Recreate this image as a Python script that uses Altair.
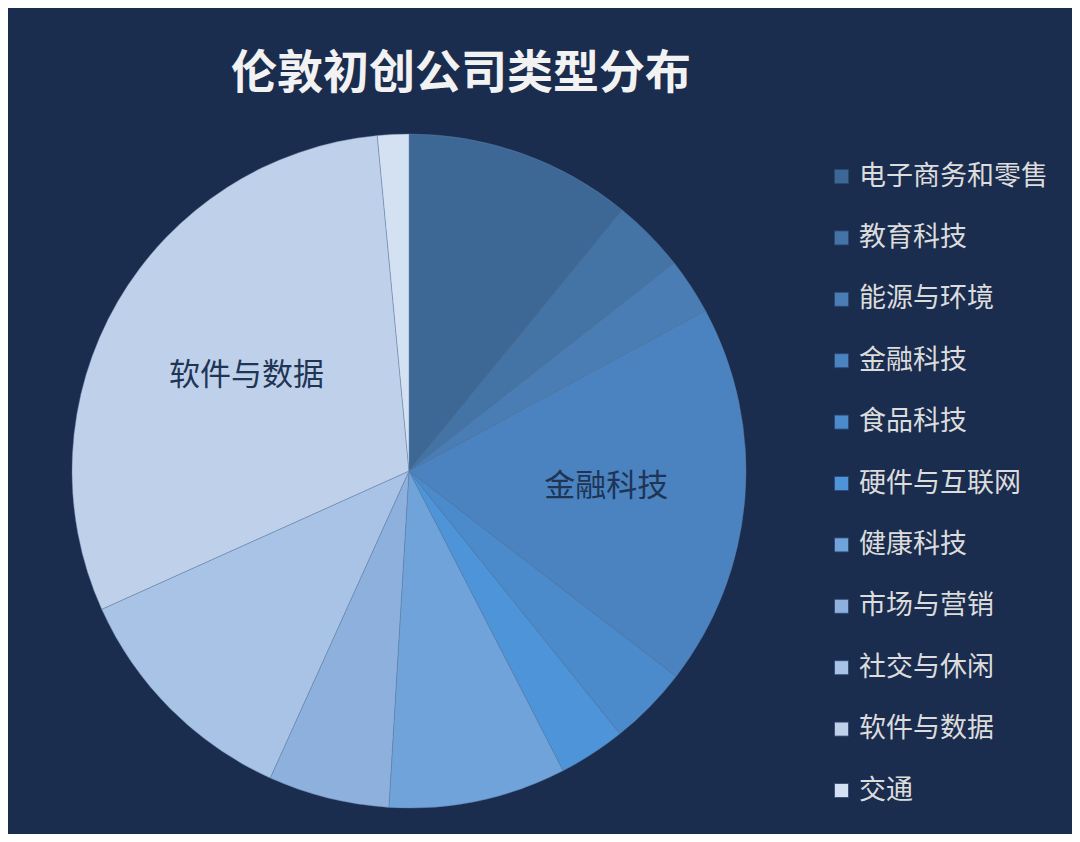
import altair as alt
import pandas as pd

categories = ["电子商务和零售", "教育科技", "能源与环境", "金融科技", "食品科技",
              "硬件与互联网", "健康科技", "市场与营销", "社交与休闲", "软件与数据", "交通"]
shares = [10.9, 3.5, 2.7, 18.3, 3.8, 3.2, 8.5, 5.8, 11.5, 30.2, 1.5]
colors = ["#3d6895", "#4474a5", "#4a7db3", "#4a83bf", "#4b8bcb", "#4d94d8",
          "#6fa3d9", "#8eb0dc", "#a9c3e6", "#bfd1ea", "#d4e1f3"]
title_text = "伦敦初创公司类型分布"

df = pd.DataFrame({"category": categories, "share": shares,
                   "idx": list(range(len(categories)))})

W, H = 1064, 826
CX, CY, R = 401, 463, 337
FONT = "Noto Sans CJK SC"

base = alt.Chart(df).encode(
    theta=alt.Theta("share:Q", stack=True),
    order=alt.Order("idx:Q"),
    detail="category:N",
)

pie = base.mark_arc(stroke="#5f7ea6", strokeWidth=0.6, strokeOpacity=0.7).encode(
    x=alt.value(CX), y=alt.value(CY),
    radius=alt.value(R),
    color=alt.Color(
        "category:N",
        scale=alt.Scale(domain=categories, range=colors),
        sort=categories,
        legend=alt.Legend(
            title=None, orient="none", legendX=820, legendY=155,
            symbolType="square", symbolSize=196, symbolStrokeWidth=0.8,
            symbolStrokeColor="#2c4670",
            labelFontSize=27, labelColor="#dcdcdc", labelFont=FONT,
            rowPadding=33.4, labelOffset=4, padding=0, labelLimit=400,
        ),
    ),
)

def slice_label(name, r):
    return base.transform_calculate(
        lbl=f"datum.category == '{name}' ? datum.category : ''"
    ).mark_text(radius=r, fontSize=31, font=FONT, color="#1f3556").encode(
        x=alt.value(CX), y=alt.value(CY), text="lbl:N"
    )

lab1 = slice_label("金融科技", 198)
lab2 = slice_label("软件与数据", 188)

title = alt.Chart(pd.DataFrame({"t": [title_text]})).mark_text(
    fontSize=46, fontWeight="bold", font=FONT, color="#f2f2f2", baseline="middle"
).encode(text="t:N", x=alt.value(453), y=alt.value(66))

chart = alt.layer(pie, lab1, lab2, title).properties(
    width=W, height=H, autosize="none", padding=0, background="#1b2d4f"
).configure_view(stroke=None)

chart.save("out.html", embed_options={"renderer": "svg", "actions": False})
